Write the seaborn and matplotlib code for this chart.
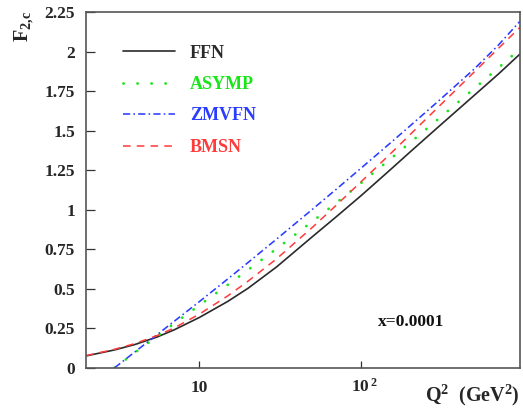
import matplotlib
matplotlib.use("Agg")
import matplotlib.pyplot as plt
from matplotlib.ticker import FixedLocator, MultipleLocator, NullFormatter, FuncFormatter
import pandas as pd
import seaborn as sns

# Charm structure function F2c at x = 1e-4 for four heavy-flavour schemes
q2_all = [2, 3, 4, 5.5, 7, 10, 15, 20, 30, 50, 70, 100, 150, 200, 300, 500, 700, 950]
q2_thr = [3, 4, 5.5, 7, 10, 15, 20, 30, 50, 70, 100, 150, 200, 300, 500, 700, 950]

ffn   = [0.075, 0.113, 0.147, 0.195, 0.24, 0.318, 0.42, 0.503, 0.638, 0.83, 0.955, 1.09,
         1.25, 1.365, 1.525, 1.725, 1.857, 1.983]
bmsn  = [0.077, 0.117, 0.153, 0.204, 0.252, 0.339, 0.455, 0.548, 0.689, 0.889, 1.028,
         1.178, 1.35, 1.475, 1.651, 1.873, 2.019, 2.152]
asymp = [0.0, 0.095, 0.20, 0.28, 0.395, 0.525, 0.619, 0.753, 0.926, 1.043, 1.17, 1.318,
         1.424, 1.575, 1.768, 1.896, 2.016]
zmvfn = [0.0, 0.10, 0.21, 0.294, 0.418, 0.562, 0.666, 0.814, 1.003, 1.129, 1.264, 1.419,
         1.53, 1.688, 1.892, 2.04, 2.19]

schemes = ["FFN", "ASYMP", "ZMVFN", "BMSN"]
x_ticks = [10, 100]
x_tick_labels = ["10", r"$\ \,10^{\,2}$"]

series = {
    "FFN": (q2_all, ffn),
    "ASYMP": (q2_thr, asymp),
    "ZMVFN": (q2_thr, zmvfn),
    "BMSN": (q2_all, bmsn),
}
df = pd.concat(
    [pd.DataFrame({"scheme": k, "Q2": q, "F2c": v}) for k, (q, v) in series.items()],
    ignore_index=True,
)

styles = {
    "FFN":   dict(color="#2a2a2a", lw=1.2, ls="-"),
    "ASYMP": dict(color="#19e619", lw=2.0, ls=(0, (0.05, 5.0)), dash_capstyle="round"),
    "ZMVFN": dict(color="#2a3cff", lw=1.15, ls=(0, (4.5, 2.0, 1.0, 2.0))),
    "BMSN":  dict(color="#ff3a3a", lw=1.1, ls=(0, (5.0, 4.0))),
}

sns.set_theme(style="white")
plt.rcParams["font.family"] = ["Liberation Serif", "DejaVu Serif"]
plt.rcParams["font.weight"] = "bold"
plt.rcParams["mathtext.fontset"] = "custom"
plt.rcParams["mathtext.rm"] = "Liberation Serif:bold"
plt.rcParams["mathtext.bf"] = "Liberation Serif:bold"
plt.rcParams["mathtext.it"] = "Liberation Serif:bold"
plt.rcParams["mathtext.default"] = "bf"

W, H = 523, 409
fig = plt.figure(figsize=(W / 100, H / 100), dpi=100)
left, right, top, bottom = 86, 520, 12, 367.8
ax = fig.add_axes([left / W, (H - bottom) / H, (right - left) / W, (bottom - top) / H])

for name in schemes:
    sub = df[df["scheme"] == name]
    st = styles[name]
    kw = {k: v for k, v in st.items() if k not in ("color", "lw", "ls")}
    sns.lineplot(data=sub, x="Q2", y="F2c", ax=ax, color=st["color"], linewidth=st["lw"],
                 linestyle=st["ls"], estimator=None, sort=False, label=name, **kw)

ax.set_xscale("log")
ax.set_xlim(2, 953)
ax.set_ylim(0, 2.25)

ax.yaxis.set_major_locator(MultipleLocator(0.25))
ax.yaxis.set_minor_locator(MultipleLocator(0.05))
ax.yaxis.set_major_formatter(FuncFormatter(lambda v, p: "%g" % round(v, 2)))

minor_x = [m * d for d in (1, 10, 100) for m in range(2, 10) if 2 <= m * d <= 953]
ax.xaxis.set_minor_locator(FixedLocator(minor_x))
ax.xaxis.set_minor_formatter(NullFormatter())
ax.set_xticks(x_ticks, x_tick_labels, va="baseline")

ax.tick_params(axis="y", which="major", direction="in", length=6.5, width=0.9,
               color="#333333", pad=8, labelsize=12.5)
ax.tick_params(axis="y", which="minor", direction="in", length=3.2, width=0.8,
               color="#333333")
ax.tick_params(axis="x", which="major", direction="in", length=5.2, width=0.9,
               color="#333333", pad=17.2, labelsize=12.5)
ax.tick_params(axis="x", which="minor", direction="in", length=2.6, width=0.8,
               color="#333333")
ax.tick_params(left=True, bottom=True, top=False, right=False)

for s in ax.spines.values():
    s.set_color("#555555")
    s.set_linewidth(1.2)

ax.set_xlabel("")
ax.set_ylabel("")

leg = ax.legend(loc="upper left", bbox_to_anchor=((123 - left) / (right - left),
                (bottom - 44.5) / (bottom - top)),
                frameon=False, borderpad=0, borderaxespad=0, fontsize=13,
                handlelength=2.9, handletextpad=0.8, labelspacing=0.8,
                labelcolor="linecolor")

ax.text(0.75, (bottom - 321.7) / (bottom - top), "x=0.0001", transform=ax.transAxes,
        ha="center", va="center", fontsize=12.5, fontweight="bold", color="#111111")

fig.text(24 / W, 1 - 11 / H, r"$F_{2,\!c}$", rotation=90, ha="center", va="top",
         fontsize=14.5)
fig.text(520 / W, 8 / H, r"$Q^{2}$  (GeV$^{2}$)", ha="right", va="baseline",
         fontsize=14.5, fontweight="bold")

fig.savefig("out.png", dpi=100)
